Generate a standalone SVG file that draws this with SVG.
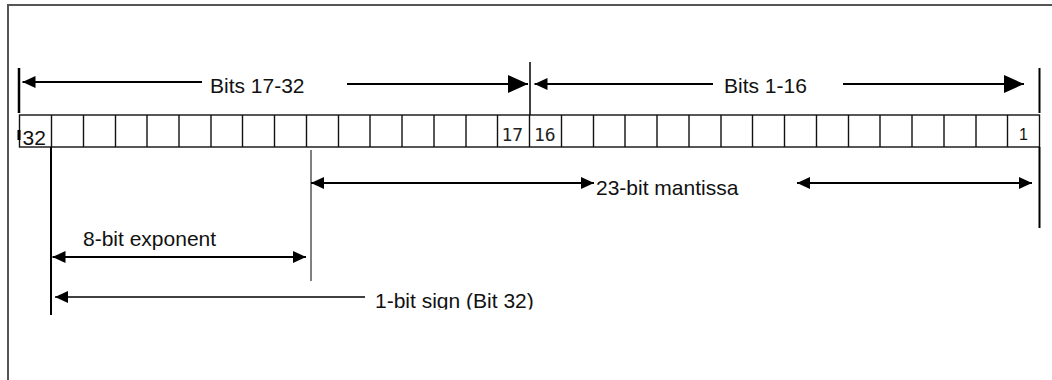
<svg xmlns="http://www.w3.org/2000/svg" width="1052" height="380" viewBox="0 0 1052 380">
<style>
.t{font-family:"Liberation Sans",Arial,sans-serif;font-size:21px;fill:#111}
.m{font-family:"DejaVu Sans Mono",monospace;font-size:18px;fill:#222}
.ln{stroke:#000;fill:none}
.cell{stroke:#111;stroke-width:1.4;fill:#fff}
</style>
<defs>
<marker id="hs" viewBox="0 0 13 12" markerWidth="13" markerHeight="12" refX="13" refY="6" orient="auto-start-reverse" markerUnits="userSpaceOnUse"><path d="M0,0 L13,6 L0,12 z" fill="#000"/></marker>
<marker id="hb" viewBox="0 0 20 18" markerWidth="20" markerHeight="18" refX="20" refY="9" orient="auto-start-reverse" markerUnits="userSpaceOnUse"><path d="M0,0 L20,9 L0,18 z" fill="#000"/></marker>
<clipPath id="cut"><rect x="0" y="0" width="1052" height="309.5"/></clipPath>
</defs>
<rect width="1052" height="380" fill="#fff"/>
<path d="M8,380 V5 H1052" stroke="#555" stroke-width="2" fill="none"/>

<g id="bit-register">
<rect class="cell" x="19.5" y="115" width="1020" height="32"/>
<path class="cell" d="M51.5,115V147M83.5,115V147M115.5,115V147M147,115V147M179,115V147M211,115V147M242.5,115V147M274.5,115V147M306.5,115V147M338.5,115V147M370,115V147M402,115V147M434,115V147M466,115V147M497.5,115V147M529.5,115V147M561.5,115V147M593.5,115V147M625,115V147M657,115V147M689,115V147M721,115V147M752.5,115V147M784.5,115V147M816.5,115V147M848.5,115V147M880,115V147M912,115V147M944,115V147M976,115V147M1007.5,115V147"/>
<rect x="17.5" y="130" width="3" height="10" fill="#000"/>
<text class="t" x="22.5" y="145">32</text>
<text class="m" x="501.5" y="140.5">17</text>
<text class="m" x="534" y="140.5">16</text>
<text class="t" x="1019" y="140" style="font-size:16px">1</text>
</g>

<g id="label-bits-17-32"><text class="t" x="210" y="93">Bits 17-32</text></g>
<g id="label-bits-1-16"><text class="t" x="724" y="93">Bits 1-16</text></g>
<g id="label-mantissa"><text class="t" x="596" y="195">23-bit mantissa</text></g>
<g id="label-exponent"><text class="t" x="83" y="246">8-bit exponent</text></g>
<g id="label-sign"><text class="t" x="375" y="307.5" clip-path="url(#cut)">1-bit sign (Bit 32)</text></g>

<g id="connectors">
<line class="ln" x1="19" y1="68" x2="19" y2="113" stroke-width="2.5"/>
<line class="ln" x1="530" y1="62" x2="530" y2="115" stroke-width="1.5"/>
<line class="ln" x1="1039.5" y1="68" x2="1039.5" y2="113" stroke-width="2"/>
<line class="ln" x1="51" y1="147" x2="51" y2="315" stroke-width="2"/>
<line class="ln" x1="311" y1="150" x2="311" y2="281" stroke-width="1"/>
<line class="ln" x1="1039.5" y1="147" x2="1039.5" y2="228" stroke-width="2"/>

<path class="ln" d="M202,82 H22.5" stroke-width="2" marker-end="url(#hs)"/>
<path class="ln" d="M347,84 H528" stroke-width="2" marker-end="url(#hb)"/>
<path class="ln" d="M713,84 H534.5" stroke-width="2" marker-end="url(#hs)"/>
<path class="ln" d="M843,84 H1024" stroke-width="2" marker-end="url(#hb)"/>
<path class="ln" d="M311,183 H594" stroke-width="2" marker-start="url(#hs)" marker-end="url(#hs)"/>
<path class="ln" d="M797,183 H1032" stroke-width="2" marker-start="url(#hs)" marker-end="url(#hs)"/>
<path class="ln" d="M52.5,257 H306" stroke-width="2" marker-start="url(#hs)" marker-end="url(#hs)"/>
<path class="ln" d="M365,297 H55" stroke-width="1.5" marker-end="url(#hs)"/>
</g>
</svg>
